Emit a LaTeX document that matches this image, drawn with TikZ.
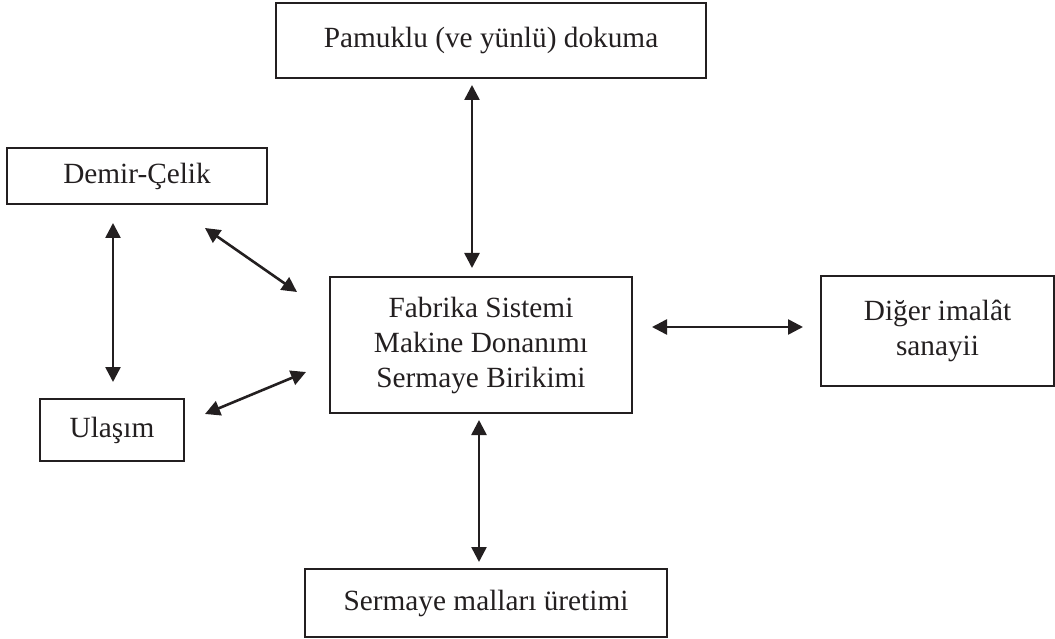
\documentclass[tikz,border=0pt]{standalone}
\usepackage{fontspec}
\setmainfont{Liberation Serif}
\usetikzlibrary{arrows.meta,calc}
\definecolor{ink}{RGB}{35,31,32}
\begin{document}
\begin{tikzpicture}[x=1pt,y=-1pt,
  box/.style={draw=ink,line width=2pt,rectangle,inner sep=0pt,outer sep=0pt,
    text=ink,align=center,font=\fontsize{29.3}{35}\selectfont},
  link/.style={draw=ink,line width=2.6pt,{Triangle[length=15pt,width=15pt]}-{Triangle[length=15pt,width=15pt]}}]
  \useasboundingbox (0,0) rectangle (1055,639);

  % sectors around the central factory system
  \node[box,minimum width=430pt,minimum height=75pt] (pam) at (491,40.5) {Pamuklu (ve yünlü) dokuma};
  \node[box,minimum width=260pt,minimum height=56pt] (dem) at (137,176) {Demir-Çelik};
  \node[box,minimum width=144pt,minimum height=62pt] (ula) at (112,430) {Ulaşım};
  \node[box,minimum width=302pt,minimum height=136pt] (fab) at (481,345)
    {Fabrika Sistemi\\Makine Donanımı\\Sermaye Birikimi};
  \node[box,minimum width=233pt,minimum height=110pt] (dig) at (937.5,331)
    {Diğer imalât\\sanayii};
  \node[box,minimum width=362pt,minimum height=68pt] (ser) at (486,603) {Sermaye malları üretimi};

  % two-way links
  \draw[link] ($(pam.south)+(-19,7)$) -- ($(fab.north)+(-9,-9)$);
  \draw[link] ($(dem.south)+(-24,19)$) -- ($(ula.north)+(1,-17)$);
  \draw[link] ($(dem.south east)+(-62,24)$) -- ($(fab.west)+(-33,-53)$);
  \draw[link] ($(ula.east)+(21,-16)$) -- ($(fab.west)+(-24,27)$);
  \draw[link] ($(fab.east)+(20,-18)$) -- ($(dig.west)+(-18,-4)$);
  \draw[link] ($(fab.south)+(-2,7)$) -- ($(ser.north)+(-7,-7)$);
\end{tikzpicture}
\end{document}
